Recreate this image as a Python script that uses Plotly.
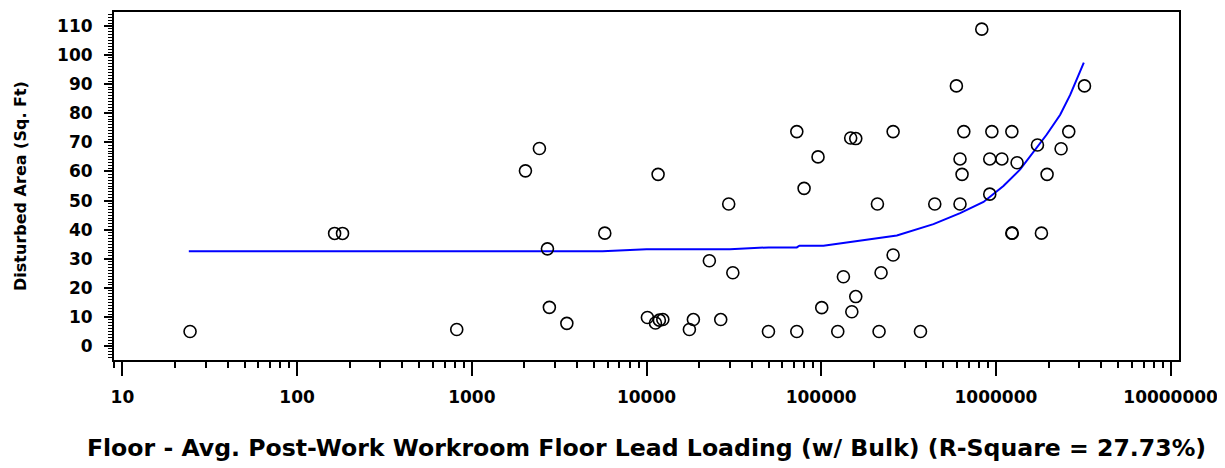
import plotly.graph_objects as go

# Observed points: floor lead loading vs disturbed area
lead_loading = [
    24.4, 164, 182, 820, 2028, 2438, 2710, 2780, 3500, 5770,
    10120, 11250, 11650, 11850, 12400, 17600, 18550, 22900, 26600, 29550,
    31200, 49900, 72500, 72500, 79800, 95900, 100700, 124400, 134000, 147500,
    157700, 149700, 157700, 209800, 214400, 220100, 258000, 258000, 370000, 446700,
    594000, 623000, 640000, 623000, 655000, 830000, 922000, 922000, 948000, 1082000,
    1234000, 1234000, 1240000, 1322000, 1729000, 1822000, 1963000, 2361000, 2612000, 3213000,
]
disturbed_area = [
    5, 38.7, 38.7, 5.7, 60.2, 67.9, 33.4, 13.3, 7.8, 38.8,
    9.8, 7.9, 59, 8.9, 9.1, 5.7, 9.1, 29.3, 9.1, 48.8,
    25.2, 5, 5, 73.7, 54.2, 65, 13.2, 5, 23.8, 71.5,
    71.3, 11.8, 17, 48.8, 5, 25.2, 73.7, 31.3, 5, 48.8,
    89.4, 64.3, 59, 48.8, 73.7, 108.9, 64.3, 52.2, 73.7, 64.3,
    73.7, 38.8, 38.8, 63, 69.1, 38.8, 59, 67.8, 73.7, 89.4,
]

# Fitted curve
fit_x = [
    24, 5600, 10000, 30000, 50000, 72500, 75000, 103000, 140000, 217000,
    271000, 439000, 624000, 849000, 1104000, 1377000, 1954000, 2333000, 2661000, 3185000,
]
fit_y = [
    32.6, 32.6, 33.3, 33.3, 33.9, 33.9, 34.5, 34.5, 35.6, 37.2,
    38.0, 41.9, 45.7, 49.5, 55.0, 60.7, 72.7, 79.5, 86.3, 97.4,
]

x_tickvals = [10, 100, 1000, 10000, 100000, 1000000, 10000000]
x_ticktext = ["10", "100", "1000", "10000", "100000", "1000000", "10000000"]
y_tickvals = list(range(0, 111, 10))

FONT = "DejaVu Sans, Arial, sans-serif"

fig = go.Figure()

fig.add_trace(go.Scatter(
    x=fit_x, y=fit_y,
    mode="lines",
    line=dict(color="#0000ff", width=2),
    showlegend=False,
))

fig.add_trace(go.Scatter(
    x=lead_loading, y=disturbed_area,
    mode="markers",
    marker=dict(symbol="circle-open", size=12, color="black", line=dict(width=1.6)),
    showlegend=False,
))

# page body adds 8px offset, so margins are shifted to compensate
fig.update_layout(
    width=1225, height=468,
    margin=dict(l=106, r=54, t=2, b=116),
    plot_bgcolor="white",
    paper_bgcolor="white",
    font=dict(family=FONT, color="black"),
)

fig.update_xaxes(
    type="log",
    range=[0.952, 7.048],
    tickvals=x_tickvals, ticktext=x_ticktext,
    tickfont=dict(size=17, family=FONT, weight="bold"),
    ticks="outside", ticklen=14, tickwidth=2, tickcolor="black",
    ticklabelstandoff=7,
    minor=dict(ticks="outside", ticklen=6, tickwidth=1.5, tickcolor="black", dtick="D1"),
    showline=True, linecolor="black", linewidth=2, mirror=True,
    showgrid=False, zeroline=False,
    title=dict(
        text="<b>Floor - Avg. Post-Work Workroom Floor Lead Loading (w/ Bulk) (R-Square = 27.73%)</b>",
        font=dict(size=23.6, family=FONT),
        standoff=33,
    ),
)

fig.update_yaxes(
    range=[-4.8, 114.8],
    tickvals=y_tickvals,
    tickfont=dict(size=17, family=FONT, weight="bold"),
    ticks="outside", ticklen=8, tickwidth=2, tickcolor="black",
    ticklabelstandoff=8,
    minor=dict(ticks="outside", ticklen=4, tickwidth=1, tickcolor="black", dtick=1),
    showline=True, linecolor="black", linewidth=2, mirror=True,
    showgrid=False, zeroline=False,
    title=dict(
        text="<b>Disturbed Area (Sq. Ft)</b>",
        font=dict(size=16, family=FONT),
        standoff=26,
    ),
)

fig.write_html("out.html")
